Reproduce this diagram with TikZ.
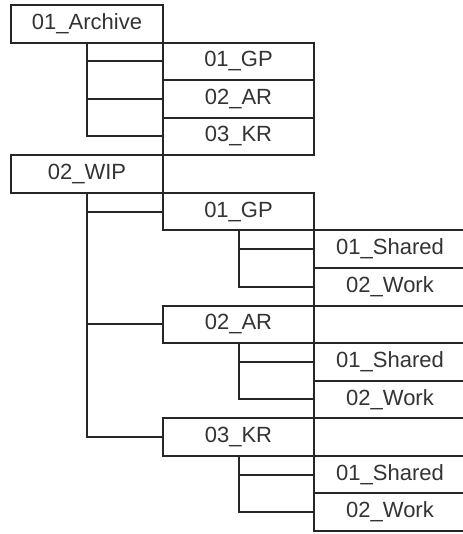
\documentclass[tikz,border=0pt]{standalone}
\usepackage{fontspec}
\setmainfont{Liberation Sans}
\begin{document}
\begin{tikzpicture}[x=1pt,y=-1pt,
  linecol/.style={draw=black!85},
  folder/.style={linecol, rectangle, line width=2pt, anchor=north west,
    inner sep=0pt, minimum height=37.57pt, text=black!80,
    font=\fontsize{22}{26}\selectfont},
  lvlzero/.style={folder, minimum width=152pt},
  lvlone/.style={folder, minimum width=151pt},
  lvltwo/.style={folder, minimum width=152pt},
  branch/.style={linecol, line width=2pt}]
\useasboundingbox (0,0) rectangle (462,534);
\def\rh{37.57}
% archive section
\node[lvlzero] (arch) at (10,4+0*\rh) {01\_Archive};
\node[lvlone]  (agp)  at (162,4+1*\rh) {01\_GP};
\node[lvlone]  (aar)  at (162,4+2*\rh) {02\_AR};
\node[lvlone]  (akr)  at (162,4+3*\rh) {03\_KR};
% work-in-progress section
\node[lvlzero] (wip)  at (10,4+4*\rh) {02\_WIP};
\node[lvlone]  (wgp)  at (162,4+5*\rh) {01\_GP};
\node[lvltwo]  (wgps) at (313,4+6*\rh) {01\_Shared};
\node[lvltwo]  (wgpw) at (313,4+7*\rh) {02\_Work};
\node[lvlone]  (war)  at (162,4+8*\rh) {02\_AR};
\node[lvltwo]  (wars) at (313,4+9*\rh) {01\_Shared};
\node[lvltwo]  (warw) at (313,4+10*\rh) {02\_Work};
\node[lvlone]  (wkr)  at (162,4+11*\rh) {03\_KR};
\node[lvltwo]  (wkrs) at (313,4+12*\rh) {01\_Shared};
\node[lvltwo]  (wkrw) at (313,4+13*\rh) {02\_Work};
% tree branches
\foreach \c in {agp,aar,akr} \draw[branch] (arch.south) |- (\c.west);
\foreach \c in {wgp,war,wkr} \draw[branch] (wip.south) |- (\c.west);
\foreach \c in {wgps,wgpw} \draw[branch] (wgp.south) |- (\c.west);
\foreach \c in {wars,warw} \draw[branch] (war.south) |- (\c.west);
\foreach \c in {wkrs,wkrw} \draw[branch] (wkr.south) |- (\c.west);
\end{tikzpicture}
\end{document}
